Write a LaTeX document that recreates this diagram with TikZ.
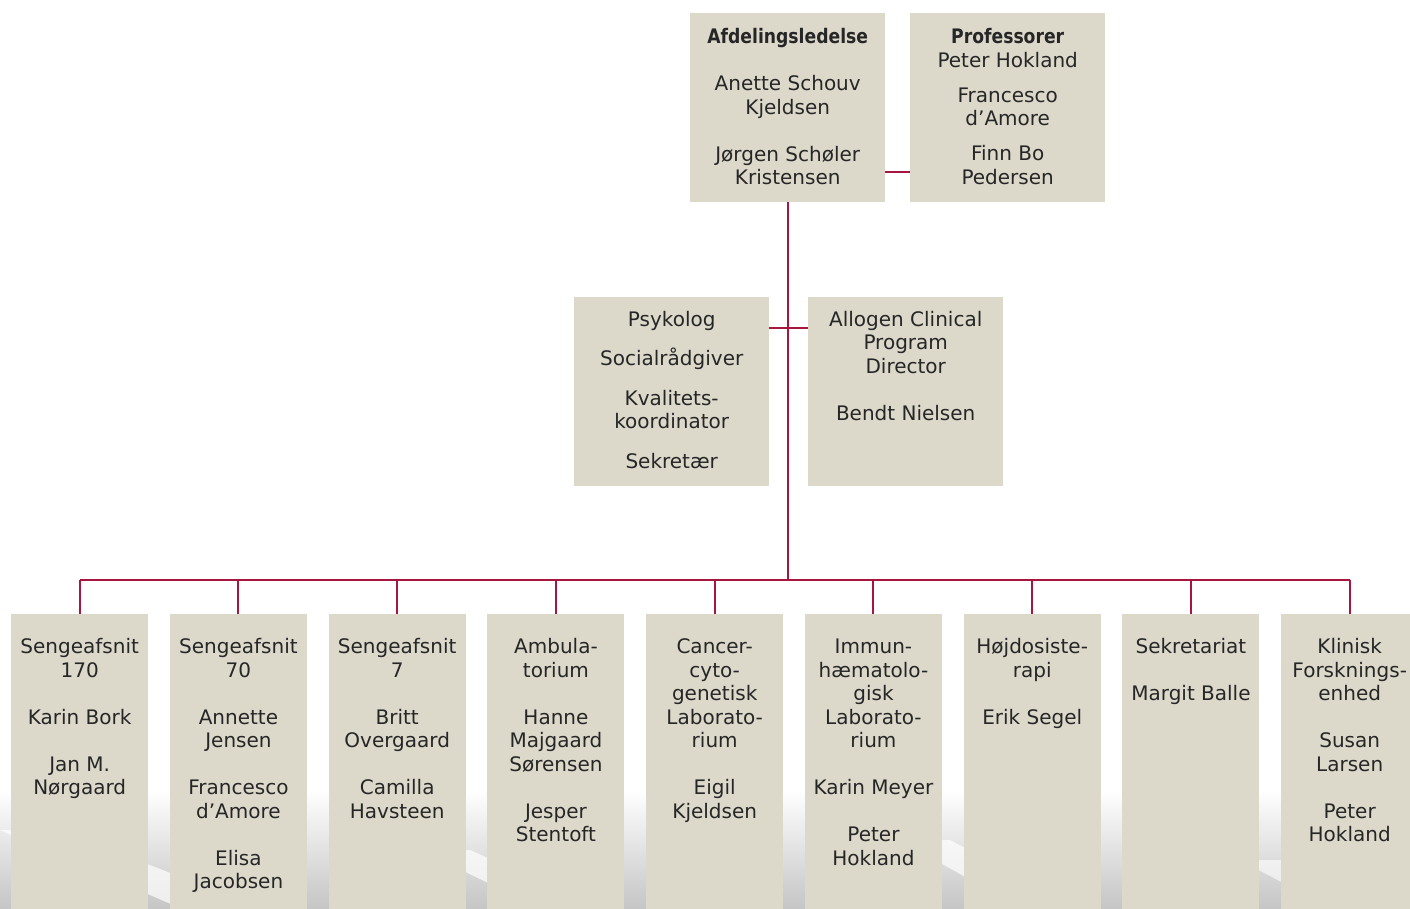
\documentclass[tikz,border=0pt]{standalone}
\usepackage{fontspec}
\setmainfont{DejaVu Sans}
\newfontfamily\headfont[FakeStretch=0.86]{DejaVu Sans}
\definecolor{boksgraa}{RGB}{220,217,203}
\definecolor{linjerod}{RGB}{166,22,62}
\definecolor{tekstgraa}{RGB}{38,38,38}
\tikzset{
  storboks/.style={fill=boksgraa, inner sep=0pt, anchor=north west, minimum width=195pt, minimum height=189pt},
  smalboks/.style={fill=boksgraa, inner sep=0pt, anchor=north west, minimum width=137pt, minimum height=300pt},
  tekst/.style={align=center, inner sep=0pt, anchor=north, text=tekstgraa, font=\fontsize{20}{23.5}\selectfont},
  forb/.style={draw=linjerod, line width=2pt}
}
\newcommand\toplinje{\rule{0pt}{16pt}}
\begin{document}
\begin{tikzpicture}[x=1pt, y=-1pt]
  % Variables
  \def\ls{23.5pt} % blank linje
  \def\bx{158.75} % afstand mellem kolonner
  \useasboundingbox (0,0) rectangle (1410,908);
  \clip (0,0) rectangle (1410,908);

  % Baggrund
  \shade[top color=white, bottom color=gray!45] (0,790) rectangle (1410,908);
  \fill[white, opacity=0.7] (0,830) -- (60,830) -- (260,908) -- (180,908) -- cycle;
  \fill[white, opacity=0.7] (420,850) -- (470,850) -- (600,908) -- (540,908) -- cycle;
  \fill[white, opacity=0.7] (900,840) -- (950,840) -- (1080,908) -- (1020,908) -- cycle;
  \fill[white, opacity=0.6] (1240,860) -- (1290,860) -- (1380,908) -- (1330,908) -- cycle;

  % Ledelse og professorer
  \node[storboks] (ledelse) at (690,13) {};
  \node[storboks] (prof) at (910,13) {};
  \node[tekst] (ledelse-t) at ([yshift=-14.5pt]ledelse.north) {\toplinje{\headfont\bfseries Afdelingsledelse}\\[\ls]Anette Schouv\\Kjeldsen\\[\ls]Jørgen Schøler\\Kristensen};
  \node[tekst] (prof-t) at ([yshift=-14.5pt]prof.north) {\toplinje{\headfont\bfseries Professorer}\\Peter Hokland\\[11.5pt]Francesco\\d’Amore\\[11.5pt]Finn Bo\\Pedersen};

  % Stab
  \node[storboks] (psyk) at (574,297) {};
  \node[storboks] (allogen) at (808,297) {};
  \node[tekst] (psyk-t) at ([yshift=-13pt]psyk.north) {\toplinje Psykolog\\[16pt]Socialrådgiver\\[16pt]Kvalitets-\\koordinator\\[16pt]Sekretær};
  \node[tekst] (allogen-t) at ([yshift=-13pt]allogen.north) {\toplinje Allogen Clinical\\Program\\Director\\[\ls]Bendt Nielsen};

  % Afsnit
  \node[smalboks] (s170) at (11,614) {};
  \node[smalboks] (s70) at ({11+\bx},614) {};
  \node[smalboks] (s7) at ({11+2*\bx},614) {};
  \node[smalboks] (amb) at ({11+3*\bx},614) {};
  \node[smalboks] (cyto) at ({11+4*\bx},614) {};
  \node[smalboks] (immun) at ({11+5*\bx},614) {};
  \node[smalboks] (hoej) at ({11+6*\bx},614) {};
  \node[smalboks] (sekr) at ({11+7*\bx},614) {};
  \node[smalboks] (klin) at ({11+8*\bx},614) {};

  \node[tekst] (s170-t) at ([yshift=-23.3pt]s170.north) {\toplinje Sengeafsnit\\170\\[\ls]Karin Bork\\[\ls]Jan M.\\Nørgaard};
  \node[tekst] (s70-t) at ([yshift=-23.3pt]s70.north) {\toplinje Sengeafsnit\\70\\[\ls]Annette\\Jensen\\[\ls]Francesco\\d’Amore\\[\ls]Elisa\\Jacobsen};
  \node[tekst] (s7-t) at ([yshift=-23.3pt]s7.north) {\toplinje Sengeafsnit\\7\\[\ls]Britt\\Overgaard\\[\ls]Camilla\\Havsteen};
  \node[tekst] (amb-t) at ([yshift=-23.3pt]amb.north) {\toplinje Ambula-\\torium\\[\ls]Hanne\\Majgaard\\Sørensen\\[\ls]Jesper\\Stentoft};
  \node[tekst] (cyto-t) at ([yshift=-23.3pt]cyto.north) {\toplinje Cancer-\\cyto-\\genetisk\\Laborato-\\rium\\[\ls]Eigil\\Kjeldsen};
  \node[tekst] (immun-t) at ([yshift=-23.3pt]immun.north) {\toplinje Immun-\\hæmatolo-\\gisk\\Laborato-\\rium\\[\ls]Karin Meyer\\[\ls]Peter\\Hokland};
  \node[tekst] (hoej-t) at ([yshift=-23.3pt]hoej.north) {\toplinje Højdosiste-\\rapi\\[\ls]Erik Segel};
  \node[tekst] (sekr-t) at ([yshift=-23.3pt]sekr.north) {\toplinje Sekretariat\\[\ls]Margit Balle};
  \node[tekst] (klin-t) at ([yshift=-23.3pt]klin.north) {\toplinje Klinisk\\Forsknings-\\enhed\\[\ls]Susan\\Larsen\\[\ls]Peter\\Hokland};

  % Forbindelser
  \coordinate (bus) at (ledelse.south |- 0,580);
  \draw[forb] ([yshift=30pt]ledelse.south east) -- ([yshift=30pt]prof.south west);
  \draw[forb] (ledelse.south) -- (bus);
  \draw[forb] ([yshift=-31pt]psyk.north east) -- ([yshift=-31pt]allogen.north west);
  \draw[forb] (s170.north |- bus) -- (klin.north |- bus);
  \draw[forb] (s170.north) -- (s170.north |- bus);
  \draw[forb] (s70.north) -- (s70.north |- bus);
  \draw[forb] (s7.north) -- (s7.north |- bus);
  \draw[forb] (amb.north) -- (amb.north |- bus);
  \draw[forb] (cyto.north) -- (cyto.north |- bus);
  \draw[forb] (immun.north) -- (immun.north |- bus);
  \draw[forb] (hoej.north) -- (hoej.north |- bus);
  \draw[forb] (sekr.north) -- (sekr.north |- bus);
  \draw[forb] (klin.north) -- (klin.north |- bus);
\end{tikzpicture}
\end{document}
